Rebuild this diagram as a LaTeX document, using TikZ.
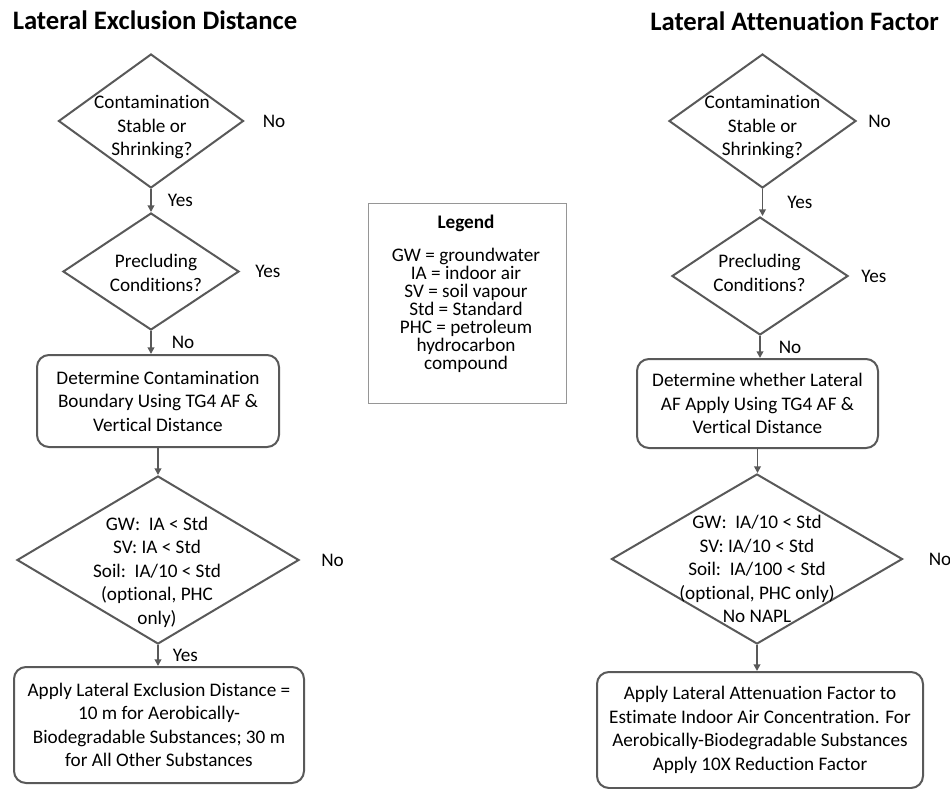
\documentclass[tikz,border=0pt]{standalone}
\usepackage{fontspec}
\setmainfont{Carlito}[Ligatures=NoCommon]
\usetikzlibrary{arrows.meta,positioning,shapes.geometric}
\definecolor{linegray}{RGB}{89,89,89}
\definecolor{leggray}{RGB}{150,150,150}
\newcommand{\bodyfont}{\fontsize{14.4}{17.6}\selectfont}

\begin{document}
\begin{tikzpicture}[x=0.75pt, y=-0.75pt, font=\bodyfont,
  dec/.style 2 args={diamond,draw=linegray,line width=1.5pt,minimum width=#1,minimum height=#2,inner sep=0pt},
  st/.style 2 args={draw=linegray,line width=1.5pt,rounded corners=9pt,align=center,minimum width=#1,minimum height=#2,inner sep=0pt},
  dtxt/.style={align=center,inner sep=0pt},
  lbl/.style={inner sep=0pt},
  ttl/.style={inner sep=0pt,font=\fontsize{20}{24}\selectfont\bfseries},
  arr/.style={-{Triangle[length=5pt,width=5pt]},draw=linegray,fill=linegray,line width=1.25pt}]
\useasboundingbox (0,0) rectangle (950,789);

% left: exclusion distance
\node[ttl] (tl) at (155,20) {Lateral Exclusion Distance};
\node[dec={138.75pt}{100.5pt}] (d1) at (151,121) {};
\node[dtxt] (d1t) at (152,127.5) {Contamination\\Stable or\\Shrinking?};
\node[dec={132pt}{87.75pt}] (d2) at (151,271.5) {};
\node[dtxt] (d2t) at (156,273) {Precluding\\Conditions?};
\node[st={181.5pt}{69pt}] (b1) at (158,401) {Determine Contamination\\Boundary Using TG4 AF \&\\Vertical Distance};
\node[dec={211.5pt}{126pt}] (d3) at (158,560) {};
\node[dtxt] (d3t) at (157,572) {GW:\ \ IA < Std\\SV: IA < Std\\Soil:\ \ IA/10 < Std\\(optional, PHC\\only)};
\node[st={217.5pt}{87pt}] (b2) at (159,725) {Apply Lateral Exclusion Distance =\\10 m for Aerobically-\\Biodegradable Substances; 30 m\\for All Other Substances};

% right: attenuation factor
\node[ttl] (tr) at (794.5,21) {Lateral Attenuation Factor};
\node[dec={140.25pt}{100.5pt}] (r1) at (762.5,121) {};
\node[dtxt] (r1t) at (762.5,127.5) {Contamination\\Stable or\\Shrinking?};
\node[dec={132pt}{88.5pt}] (r2) at (760,276) {};
\node[dtxt] (r2t) at (759.5,273) {Precluding\\Conditions?};
\node[st={180.75pt}{66.75pt}] (rb1) at (757.5,403.5) {Determine whether Lateral\\AF Apply Using TG4 AF \&\\Vertical Distance};
\node[dec={218.25pt}{127.5pt}] (r3) at (757,559) {};
\node[dtxt] (r3t) at (757,569) {GW:\ \ IA/10 < Std\\SV: IA/10 < Std\\Soil:\ \ IA/100 < Std\\(optional, PHC only)\\No NAPL};
\node[st={244.5pt}{87pt}] (rb2) at (760,730) {Apply Lateral Attenuation Factor to\\Estimate Indoor Air Concentration. For\\Aerobically-Biodegradable Substances\\Apply 10X Reduction Factor};

% legend
\node[draw=leggray,line width=0.75pt,minimum width=148.5pt,minimum height=150pt,inner sep=0pt] (leg) at (467,303) {};
\node[lbl,font=\bodyfont\bfseries] (legt) at (466,223) {Legend};
\node[dtxt,font=\fontsize{14.4}{13.4}\selectfont] (legl) at (466,310.3) {GW = groundwater\\IA = indoor air\\SV = soil vapour\\Std = Standard\\PHC = petroleum\\hydrocarbon\\compound};

% side answers
\node[lbl, right=13.5pt of d1] (d1no) {No};
\node[lbl, right=11.25pt of d2] (d2yes) {Yes};
\node[lbl, right=15.75pt of d3] (d3no) {No};
\node[lbl, right=8.25pt of r1] (r1no) {No};
\node[lbl, right=9pt of r2] (r2yes) {Yes};
\node[lbl, right=18.75pt of r3] (r3no) {No};

% connectors
\foreach \a/\b/\l/\d in {d1/d2/Yes/12pt, d2/b1/No/15pt, d3/b2/Yes/10.5pt, r1/r2/Yes/18pt, r2/rb1/No/13.5pt}
  \draw[arr] (\a.south) -- node[lbl,right=\d]{\l} (\a.south |- \b.north);
\foreach \a/\b in {b1/d3, rb1/r3, r3/rb2}
  \draw[arr] (\a.south) -- (\a.south |- \b.north);
\end{tikzpicture}
\end{document}
